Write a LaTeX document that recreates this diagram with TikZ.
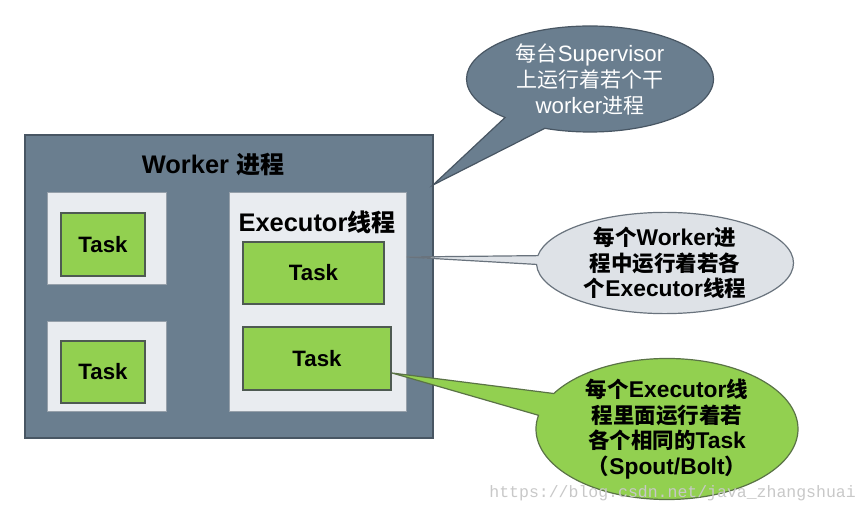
\documentclass[tikz,border=0pt]{standalone}
\usepackage{fontspec}
\setmainfont{Liberation Sans}[Scale=1.06]
\newfontfamily\cjk{Noto Sans CJK SC}
\newfontfamily\wmfont{Liberation Mono}
\usetikzlibrary{shapes.callouts}
\newcommand\C[1]{{\cjk #1}}
\definecolor{slate}{RGB}{106,126,143}
\definecolor{slateborder}{RGB}{72,86,99}
\definecolor{lightbox}{RGB}{233,236,240}
\definecolor{lightborder}{RGB}{150,160,170}
\definecolor{taskgreen}{RGB}{146,208,80}
\definecolor{taskborder}{RGB}{78,90,82}
\definecolor{bubblegray}{RGB}{222,226,231}
\definecolor{bubblegrayborder}{RGB}{105,115,125}
\definecolor{greenborder}{RGB}{90,115,70}
\definecolor{wmgray}{RGB}{200,200,200}
\tikzset{
  outerbox/.style={rectangle, draw=slateborder, fill=slate, line width=2pt, inner sep=0pt},
  holder/.style={rectangle, draw=lightborder, fill=lightbox, line width=1pt, inner sep=0pt},
  taskbox/.style={rectangle, draw=taskborder, fill=taskgreen, line width=1.6pt, inner sep=0pt,
    font=\fontsize{21}{25}\selectfont\bfseries},
  biglabel/.style={font=\fontsize{24}{28}\selectfont\bfseries, inner sep=0pt},
  bubble/.style={ellipse callout, line width=1.2pt, inner sep=0pt, align=center},
}
\begin{document}
\begin{tikzpicture}[x=1pt,y=-1pt]
\useasboundingbox (0,0) rectangle (867,513);
% worker process box
\node[outerbox, minimum width=408, minimum height=303] (worker) at (229,286.5) {};
\node[biglabel] (wl) at (213,165) {Worker \C{进程}};
% left executors
\node[holder, minimum width=119, minimum height=91] (e1) at (106.5,238.5) {};
\node[taskbox, minimum width=84, minimum height=63] (t1) at (103,244.5) {Task};
\node[holder, minimum width=119, minimum height=90] (e2) at (106.5,366) {};
\node[taskbox, minimum width=84, minimum height=62] (t2) at (103,372) {Task};
% right executor
\node[holder, minimum width=177, minimum height=218] (e3) at (317.5,302) {};
\node[biglabel] (el) at (317,222) {Executor\C{线程}};
\node[taskbox, minimum width=141, minimum height=62] (t3) at (313.5,273) {Task};
\node[taskbox, minimum width=148, minimum height=63] (t4) at (317,358.5) {Task};
% pointer targets
\coordinate (p1) at (433,185);
\coordinate (p2) at (407,257);
\coordinate (p3) at (392,373);
% callouts
\node[bubble, fill=slate, draw=slateborder, text=white,
  font=\fontsize{21}{26}\selectfont,
  minimum width=247, minimum height=106,
  callout absolute pointer={(p1)}, callout pointer arc=22] (c1) at (590,79)
  {\C{每台}Supervisor\\\C{上运行着若个干}\\worker\C{进程}};
\node[bubble, fill=bubblegray, draw=bubblegrayborder,
  font=\fontsize{21.5}{25.5}\selectfont\bfseries,
  minimum width=257, minimum height=93,
  callout absolute pointer={(p2)}, callout pointer arc=10] (c2) at (665,263)
  {\C{每个}Worker\C{进}\\\C{程中运行着若各}\\\C{个}Executor\C{线程}};
\node[bubble, fill=taskgreen, draw=greenborder,
  font=\fontsize{21.5}{25.5}\selectfont\bfseries,
  minimum width=262, minimum height=112,
  callout absolute pointer={(p3)}, callout pointer arc=19] (c3) at (667,429)
  {\C{每个}Executor\C{线}\\\C{程里面运行着若}\\\C{各个相同的}Task\\\C{（}Spout/Bolt\C{）}};
% watermark
\node[font=\wmfont\fontsize{16.5}{18}\selectfont, text=wmgray, anchor=east, inner sep=0pt] (wm) at (856,493)
  {https://blog.csdn.net/java\_zhangshuai};
\end{tikzpicture}
\end{document}
